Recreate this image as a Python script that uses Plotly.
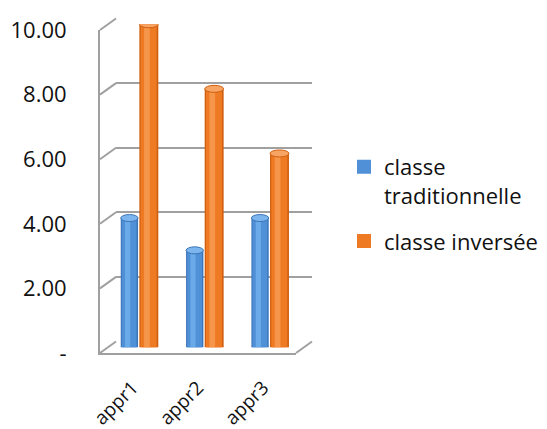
import plotly.graph_objects as go

# ---- data ----
categories = ["appr1", "appr2", "appr3"]
series_names = ["classe<br>traditionnelle", "classe inversée"]
trad_values = [4, 3, 4]
inv_values = [10, 8, 6]
y_tickvals = [0, 2, 4, 6, 8, 10]
y_ticktext = ["-", "2.00", "4.00", "6.00", "8.00", "10.00"]

# ---- geometry (pixels) ----
W, H = 547, 429
FX0, FX1, FYB, FYT = 100, 296, 353, 30   # front frame
DX, DY = 16, -11.5                        # depth offset to back wall
GRID = "#A0A0A0"
FONT = "Open Sans"
TXT = "#111111"


def px(x):
    return x / W


def py(y):
    return 1 - y / H


def dom(off):
    return ([px(FX0 + DX * off), px(FX1 + DX * off)],
            [py(FYB + DY * off), py(FYT + DY * off)])


fxd, fyd = dom(0)
mxd, myd = dom(0.5)
bxd, byd = dom(1)
units_per_px = 10 / (FYB - FYT)

fig = go.Figure()

shapes = []
# cylinder-like bars: layers of shades (dark edge, main, highlight) + caps
series = [
    (trad_values, -0.305, 0.265, ["#3C74B8", "#4F90D6", "#6AAAE8", "#7DB6EE"], series_names[0]),
    (inv_values, -0.02, 0.29, ["#D0600F", "#EE7A24", "#F5964A", "#F7A464"], series_names[1]),
]
cap_h = 3.5 * units_per_px
for si, (vals, off, wid, cols, name) in enumerate(series):
    layers = [
        (off, wid, cols[0], False, 0),
        (off + wid * 0.12, wid * 0.74, cols[1], True, 2),
        (off + wid * 0.25, wid * 0.30, cols[2], False, 0),
    ]
    for lo, lw, c, leg, lwid in layers:
        fig.add_trace(go.Bar(
            x=categories, y=vals, xaxis="x3", yaxis="y3",
            offset=lo, width=lw, marker=dict(color=c, line=dict(width=lwid, color=c)),
            name=name, showlegend=leg, legendrank=si + 1, legendgroup=f"g{si}",
            hoverinfo="skip" if not leg else None,
        ))
    for i, v in enumerate(vals):
        # rounded bottom
        shapes.append(dict(type="circle", xref="x3", yref="y3", layer="below",
                           x0=i + off, x1=i + off + wid, y0=-cap_h, y1=cap_h,
                           fillcolor=cols[1], line=dict(width=0)))
        # top cap
        shapes.append(dict(type="circle", xref="x3", yref="y3", layer="above",
                           x0=i + off, x1=i + off + wid, y0=v - cap_h, y1=v + cap_h,
                           fillcolor=cols[3], line=dict(color=cols[0], width=1)))

# dummy traces to anchor front and back axes
fig.add_trace(go.Scatter(x=categories, y=[None] * 3, xaxis="x", yaxis="y",
                         showlegend=False, hoverinfo="skip"))
fig.add_trace(go.Scatter(x=[0], y=[None], xaxis="x2", yaxis="y2",
                         showlegend=False, hoverinfo="skip"))

# depth lines of side wall and floor
for v in y_tickvals:
    yf = FYB + (FYT - FYB) * v / 10
    shapes.append(dict(type="line", xref="paper", yref="paper",
                       x0=px(FX0), y0=py(yf), x1=px(FX0 + DX), y1=py(yf + DY),
                       line=dict(color=GRID, width=2)))
shapes.append(dict(type="line", xref="paper", yref="paper",
                   x0=px(FX1), y0=py(FYB), x1=px(FX1 + DX), y1=py(FYB + DY),
                   line=dict(color=GRID, width=2)))

fig.update_layout(
    width=W, height=H, autosize=False,
    margin=dict(l=0, r=0, t=0, b=0, autoexpand=False),
    paper_bgcolor="white", plot_bgcolor="rgba(0,0,0,0)",
    barmode="overlay",
    font=dict(family=FONT, color=TXT),
    xaxis=dict(domain=fxd, type="category", range=[-0.5, 2.5], automargin=False,
               showline=True, linecolor=GRID, linewidth=2, showgrid=False,
               ticks="", tickangle=-45, tickfont=dict(family=FONT, size=19, color=TXT),
               ticklabelstandoff=14, anchor="y", fixedrange=True),
    yaxis=dict(domain=fyd, range=[0, 10], showline=True, linecolor=GRID, linewidth=2,
               showgrid=False, zeroline=False, tickvals=y_tickvals, ticktext=y_ticktext,
               ticks="", tickfont=dict(family=FONT, size=22, color=TXT),
               ticklabelstandoff=27, anchor="x", automargin=False, fixedrange=True),
    xaxis2=dict(domain=bxd, range=[0, 1], visible=False, anchor="y2"),
    yaxis2=dict(domain=byd, range=[0, 10], showgrid=True, gridcolor=GRID, gridwidth=2,
                tickvals=y_tickvals, showticklabels=False, zeroline=False,
                showline=False, ticks="", anchor="x2", automargin=False),
    xaxis3=dict(domain=mxd, type="category", range=[-0.5, 2.5], visible=False, anchor="y3"),
    yaxis3=dict(domain=myd, range=[0, 10], visible=False, anchor="x3"),
    shapes=shapes,
    legend=dict(x=px(344), y=py(146), xanchor="left", yanchor="top",
                font=dict(family=FONT, size=22, color=TXT), valign="top",
                traceorder="grouped", tracegroupgap=14, bgcolor="rgba(0,0,0,0)"),
    showlegend=True,
)

fig.write_html("out.html")
